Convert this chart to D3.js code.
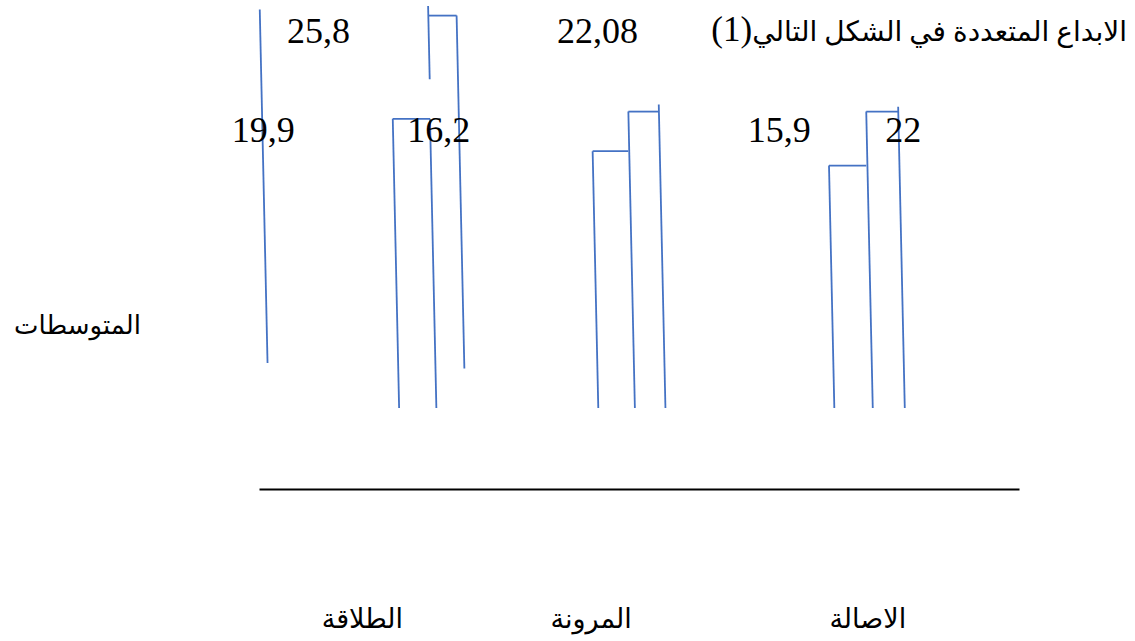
<!DOCTYPE html>
<html>
<head>
<meta charset="utf-8">
<script src="https://cdn.jsdelivr.net/npm/d3@7"></script>
<style>
  body { margin: 0; background: #fff; }
  text { font-family: "Liberation Serif", "DejaVu Sans", serif; fill: #000; }
</style>
</head>
<body>
<svg id="chart"></svg>
<script>

// categories on the x axis (right to left as in the original)
var categories = ["الطلاقة", "المرونة", "الاصالة"];

// heights of the two bars and the closing post in each group
var barTops = [
  [24.1, 32.7, 32.7],
  [21.4, 24.7, 25.3],
  [20.2, 24.7, 25.1]
];

// the number labels, upper row and lower row
var upperLabels = ["25,8", "22,08"];
var lowerLabels = ["19,9", "16,2", "15,9", "22"];

var titleText = "الابداع المتعددة في الشكل التالي";
var titleNum = "(1)";
var yTitle = "المتوسطات";

var width = 1135, height = 641;
var blue = "#4472C4";

var svg = d3.select("#chart")
    .attr("width", width)
    .attr("height", height);

var xScale = d3.scaleLinear()
    .domain([0, 100])
    .range([259, 1019]);

var yScale = d3.scaleLinear()
    .domain([0, 30])
    .range([408, 48]);

// left edges of each group and its bars (axis units)
var groupEdges = [[17.6, 22.5, 26.0], [43.9, 48.6, 52.6], [75.0, 79.9, 84.1]];
var lean = 0.022;

function vline(x, v0, v1) {
  var xt = xScale(x), yt = yScale(v1), yb = yScale(v0);
  svg.append("line")
    .attr("x1", xt).attr("y1", yt)
    .attr("x2", xt + lean * (yb - yt)).attr("y2", yb)
    .attr("stroke", blue).attr("stroke-width", 1.8);
}
function hline(xa, xb, v) {
  svg.append("line")
    .attr("x1", xScale(xa)).attr("x2", xScale(xb))
    .attr("y1", yScale(v)).attr("y2", yScale(v))
    .attr("stroke", blue).attr("stroke-width", 1.8);
}

barTops.forEach(function(t, g) {
  var e = groupEdges[g];
  vline(e[0], 0, t[0]);
  hline(e[0], e[1], t[0]);
  if (g == 0) {
    // first group is broken in the original: a short stub carries the second top
    vline(e[1], 0, t[0]);
    vline(e[1] - 0.25, 27.4, 33.5);
    hline(e[1] - 0.25, e[2], t[1]);
    vline(e[2], 3.3, t[2]);
  } else {
    vline(e[1], 0, t[1]);
    hline(e[1], e[2], t[1]);
    vline(e[2], 0, t[2]);
  }
});

// stray line on the far left
vline(0.1, 3.75, 33.2);

// axis (no ticks)
svg.append("g")
  .attr("transform", "translate(0,489)")
  .call(d3.axisBottom(xScale).tickValues([]).tickSizeOuter(0))
  .select(".domain")
  .attr("stroke", "#000")
  .attr("stroke-width", 2);

// number labels
var upperX = [3.7, 39.2];
var lowerX = [-3.6, 19.5, 64.3, 82.4];

svg.selectAll(".upper")
  .data(upperLabels)
  .enter().append("text")
  .attr("x", function(d, i) { return xScale(upperX[i]); })
  .attr("y", 43)
  .style("font-size", "36px")
  .text(function(d) { return d; });

svg.selectAll(".lower")
  .data(lowerLabels)
  .enter().append("text")
  .attr("x", function(d, i) { return xScale(lowerX[i]); })
  .attr("y", 142)
  .style("font-size", "36px")
  .text(function(d) { return d; });

// category labels
var catX = [13.6, 43.7, 80.1];
svg.selectAll(".cat")
  .data(categories)
  .enter().append("text")
  .attr("x", function(d, i) { return xScale(catX[i]); })
  .attr("y", 628)
  .attr("text-anchor", "middle")
  .style("font-size", "27px")
  .text(function(d) { return d; });

// title, right aligned (rtl start = right edge)
var title = svg.append("text")
  .attr("x", 1127)
  .attr("y", 41)
  .attr("text-anchor", "start")
  .attr("direction", "rtl")
  .style("font-size", "28px");
title.append("tspan").text(titleText);
title.append("tspan").style("font-size", "35px").text(titleNum);

svg.append("text")
  .attr("x", 141)
  .attr("y", 334)
  .attr("text-anchor", "end")
  .style("font-size", "26px")
  .text(yTitle);

</script>
</body>
</html>
